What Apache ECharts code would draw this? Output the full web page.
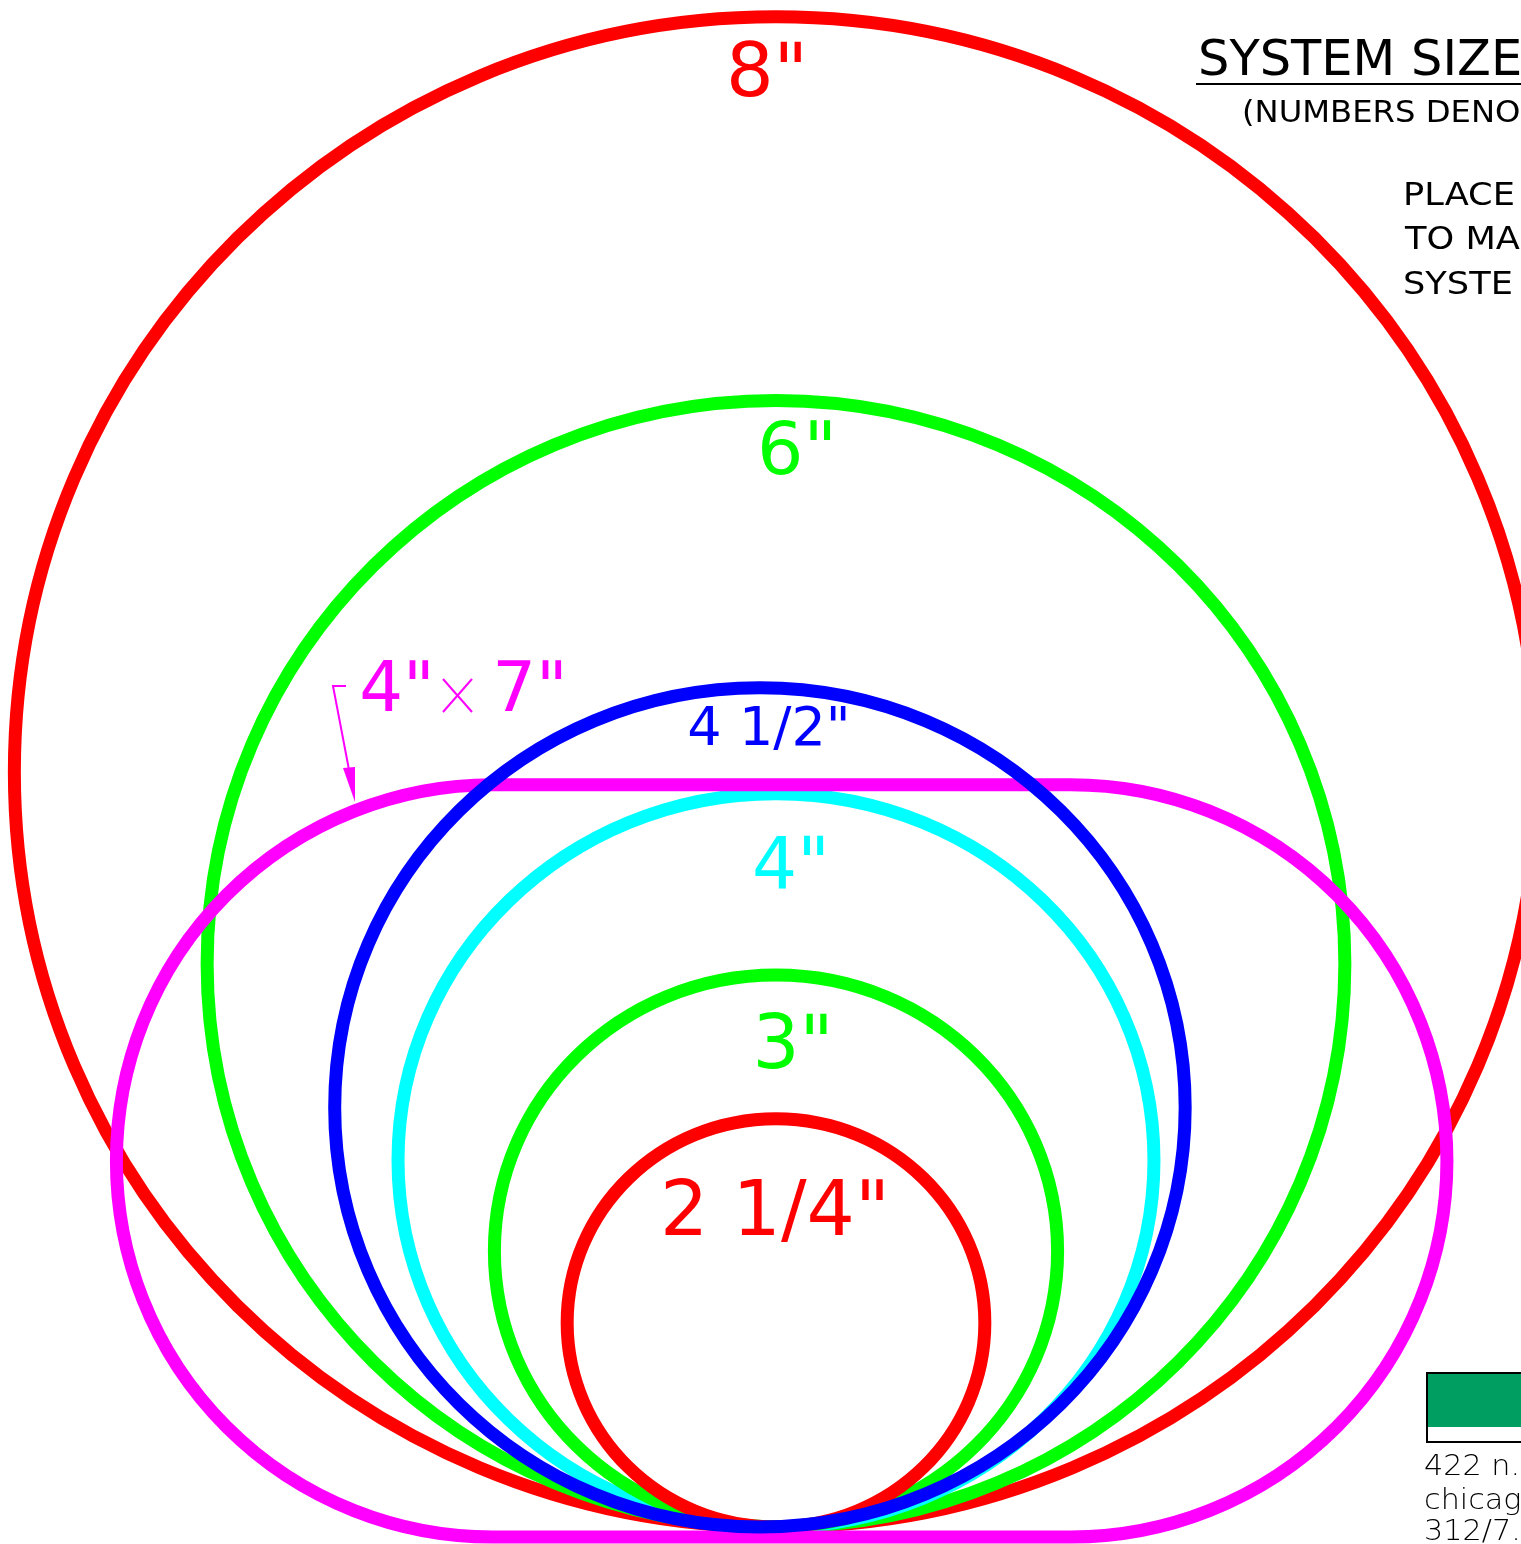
<!DOCTYPE html>
<html>
<head>
<meta charset="utf-8">
<title>System sizes</title>
<script src="https://cdn.jsdelivr.net/npm/echarts@6/dist/echarts.min.js"></script>
<style>
  html, body { margin: 0; padding: 0; background: #fff; }
  #main { width: 1521px; height: 1544px; }
</style>
</head>
<body>
<div id="main"></div>
<script>
// sizes in inches (all rings sit on the same bottom line)
var sizeLabels = ['8"', '6"', '4 1/2"', '4"', '3"', '2 1/4"'];
var ringWidths = [8.06, 6.02, 4.50, 4.00, 2.98, 2.21];
var ringHeights = [7.99, 5.96, 4.44, 3.88, 2.92, 2.16];
var ringOffsets = [0, 0, -0.085, 0, 0, 0];
var ovalLabel = '4"x 7"';
var ovalSize = [7.04, 3.98];
var ovalOffset = 0.03;
var ovalBottom = -0.053;

var ringColors = ['#ff0000', '#00ff00', '#0000ff', '#00ffff', '#00ff00', '#ff0000'];
var ovalColor = '#ff00ff';

var shapes = ringWidths.map(function (w, i) {
  return [ringOffsets[i], 0, w, ringHeights[i], i];
});
shapes.push([ovalOffset, ovalBottom, ovalSize[0], ovalSize[1], 6]);

var chart = echarts.init(document.getElementById('main'));

function label(text, x, y, size, color) {
  return {
    type: 'text',
    silent: true,
    style: {
      text: text, x: x, y: y,
      font: size + 'px "DejaVu Sans"',
      fill: color,
      textAlign: 'center',
      textVerticalAlign: 'middle'
    }
  };
}
function note(text, x, y, size, sx, weight) {
  return {
    type: 'text',
    silent: true,
    x: x, y: y,
    scaleX: sx || 1,
    style: {
      text: text, x: 0, y: 0,
      font: (weight || 'normal') + ' ' + size + 'px "DejaVu Sans"',
      fill: '#000',
      textAlign: 'left',
      textVerticalAlign: 'middle'
    }
  };
}

chart.setOption({
  animation: false,
  grid: { left: 0, right: 0, top: 0, bottom: 0 },
  xAxis: { type: 'value', min: -4.106, max: 3.942, show: false },
  yAxis: { type: 'value', min: -0.09, max: 8.079, show: false },
  series: [{
    type: 'custom',
    silent: true,
    data: shapes,
    renderItem: function (params, api) {
      var idx = api.value(4);
      var w = api.value(2), h = api.value(3);
      var c = api.coord([api.value(0), api.value(1) + h / 2]);
      var s = api.size([w, h]);
      if (idx === 6) {
        return {
          type: 'rect',
          z2: 2,
          shape: { x: c[0] - s[0] / 2, y: c[1] - s[1] / 2, width: s[0], height: s[1], r: s[1] / 2 },
          style: { fill: 'none', stroke: ovalColor, lineWidth: 13 }
        };
      }
      return {
        type: 'ellipse',
        z2: idx === 2 ? 3 : 1,
        shape: { cx: c[0], cy: c[1], rx: s[0] / 2, ry: s[1] / 2 },
        style: { fill: 'none', stroke: ringColors[idx], lineWidth: 13 }
      };
    }
  }],
  graphic: [
    label(sizeLabels[0], 767, 77, 75, ringColors[0]),
    label(sizeLabels[1], 797, 455, 73, ringColors[1]),
    label(sizeLabels[2], 769, 731, 54, ringColors[2]),
    label(sizeLabels[3], 791, 870, 71, ringColors[3]),
    label(sizeLabels[4], 793, 1049, 74, ringColors[4]),
    label(sizeLabels[5], 775, 1215, 76, ringColors[5]),
    // 4" x 7" callout
    label(ovalLabel.split('x')[0], 397, 693, 69, ovalColor),
    label(ovalLabel.split('x')[1].trim(), 530, 693, 69, ovalColor),
    { type: 'line', silent: true, shape: { x1: 443, y1: 679, x2: 472, y2: 712 }, style: { stroke: ovalColor, lineWidth: 2 } },
    { type: 'line', silent: true, shape: { x1: 472, y1: 679, x2: 443, y2: 712 }, style: { stroke: ovalColor, lineWidth: 2 } },
    { type: 'polyline', silent: true, shape: { points: [[346, 686], [333, 686], [350, 775]] }, style: { stroke: ovalColor, lineWidth: 2, fill: 'none' } },
    { type: 'polygon', silent: true, shape: { points: [[343, 768], [355, 767], [355, 802]] }, style: { fill: ovalColor } },
    // title block, top right
    note('SYSTEM SIZE', 1198, 62, 49, 1.01),
    { type: 'line', silent: true, shape: { x1: 1196, y1: 84, x2: 1521, y2: 84 }, style: { stroke: '#000', lineWidth: 2 } },
    note('(NUMBERS DENO', 1242, 114, 31, 1.04),
    note('PLACE', 1403, 197, 32, 1.1),
    note('TO MA', 1405, 241, 32, 1.1),
    note('SYSTE', 1403, 286, 32, 1.1),
    // logo block, bottom right
    { type: 'rect', silent: true, shape: { x: 1427, y: 1373, width: 110, height: 69 }, style: { fill: '#fff', stroke: '#000', lineWidth: 2 } },
    { type: 'rect', silent: true, shape: { x: 1428, y: 1374, width: 110, height: 53 }, style: { fill: '#009e60' } },
    note('422 n.', 1424, 1468, 28, 1.08, 200),
    note('chicag', 1424, 1502, 28, 1.08, 200),
    note('312/7.', 1424, 1533, 28, 1.08, 200)
  ]
});
</script>
</body>
</html>
